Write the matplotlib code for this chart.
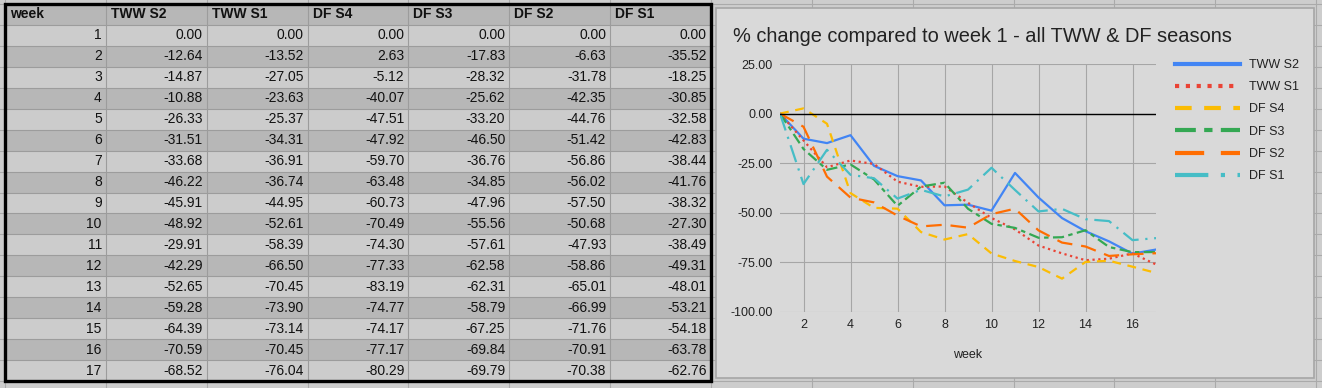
import numpy as np
import matplotlib
matplotlib.use("Agg")
import matplotlib.pyplot as plt
from matplotlib.patches import Rectangle

plt.rcParams['font.family'] = ['Liberation Sans', 'DejaVu Sans']

# data copied from the sheet
weeks = list(range(1, 18))
series_names = ['TWW S2', 'TWW S1', 'DF S4', 'DF S3', 'DF S2', 'DF S1']
tww_s2 = [0.00, -12.64, -14.87, -10.88, -26.33, -31.51, -33.68, -46.22, -45.91,
          -48.92, -29.91, -42.29, -52.65, -59.28, -64.39, -70.59, -68.52]
tww_s1 = [0.00, -13.52, -27.05, -23.63, -25.37, -34.31, -36.91, -36.74, -44.95,
          -52.61, -58.39, -66.50, -70.45, -73.90, -73.14, -70.45, -76.04]
df_s4 = [0.00, 2.63, -5.12, -40.07, -47.51, -47.92, -59.70, -63.48, -60.73,
         -70.49, -74.30, -77.33, -83.19, -74.77, -74.17, -77.17, -80.29]
df_s3 = [0.00, -17.83, -28.32, -25.62, -33.20, -46.50, -36.76, -34.85, -47.96,
         -55.56, -57.61, -62.58, -62.31, -58.79, -67.25, -69.84, -69.79]
df_s2 = [0.00, -6.63, -31.78, -42.35, -44.76, -51.42, -56.86, -56.02, -57.50,
         -50.68, -47.93, -58.86, -65.01, -66.99, -71.76, -70.91, -70.38]
df_s1 = [0.00, -35.52, -18.25, -30.85, -32.58, -42.83, -38.44, -41.76, -38.32,
         -27.30, -38.49, -49.31, -48.01, -53.21, -54.18, -63.78, -62.76]
all_series = [tww_s2, tww_s1, df_s4, df_s3, df_s2, df_s1]

chart_title = '% change compared to week 1 - all TWW & DF seasons'

W, H = 1322, 388
fig = plt.figure(figsize=(W / 100, H / 100), dpi=100)
fig.patch.set_facecolor('#cdcdcd')


def fig_box(x0, y0, x1, y1):
    # pixel box (top-left origin) -> figure fraction rect
    return [x0 / W, 1 - y1 / H, (x1 - x0) / W, (y1 - y0) / H]


# background sheet + table, drawn in pixel coordinates
sheet = fig.add_axes([0, 0, 1, 1])
sheet.set_xlim(0, W)
sheet.set_ylim(H, 0)
sheet.axis('off')

col_edges = np.linspace(5, 711, 8)
row_edges = np.linspace(4, 381, 19)
row_h = row_edges[1] - row_edges[0]
col_w = col_edges[1] - col_edges[0]

# sheet cell lines visible around the table and chart
for x in np.arange(col_edges[0], W + col_w, col_w):
    sheet.plot([x, x], [0, H], color='#aaaaaa', lw=0.8, zorder=0)
for y in np.arange(row_edges[0], H + row_h, row_h):
    sheet.plot([0, W], [y, y], color='#aaaaaa', lw=0.8, zorder=0)

# table rows
for r in range(18):
    y0 = row_edges[r]
    if r == 0 or r % 2 == 0:
        bg = '#b7b7b7'
    else:
        bg = '#cccccc'
    sheet.add_patch(Rectangle((col_edges[0], y0), col_edges[-1] - col_edges[0], row_h,
                              facecolor=bg, edgecolor='none', zorder=1))
for x in col_edges:
    sheet.plot([x, x], [row_edges[0], row_edges[-1]], color='#9c9c9c', lw=0.8, zorder=2)
for y in row_edges:
    sheet.plot([col_edges[0], col_edges[-1]], [y, y], color='#9c9c9c', lw=0.8, zorder=2)

headers = ['week'] + series_names
for c, h in enumerate(headers):
    sheet.text(col_edges[c] + 5, row_edges[0] + row_h / 2, h, ha='left', va='center',
               fontsize=10, fontweight='bold', color='#111111', zorder=3)

for r, wk in enumerate(weeks):
    yc = row_edges[r + 1] + row_h / 2
    sheet.text(col_edges[1] - 4, yc, str(wk), ha='right', va='center',
               fontsize=10, color='#111111', zorder=3)
    for c, s in enumerate(all_series):
        sheet.text(col_edges[c + 2] - 4, yc, '%.2f' % s[r], ha='right', va='center',
                   fontsize=10, color='#111111', zorder=3)

sheet.add_patch(Rectangle((col_edges[0], row_edges[0]), col_edges[-1] - col_edges[0],
                          row_edges[-1] - row_edges[0], facecolor='none',
                          edgecolor='black', lw=2.4, zorder=4))

# chart panel
sheet.add_patch(Rectangle((716, 8), 1314 - 716, 378 - 8, facecolor='#d9d9d9',
                          edgecolor='#a6a6a6', lw=1.2, zorder=5))

fig.text(733 / W, 1 - 36 / H, chart_title, ha='left', va='center',
         fontsize=14.4, color='#222222')

ax = fig.add_axes(fig_box(780, 64, 1156, 312))
ax.set_facecolor('none')
ax.set_zorder(6)

colors = ['#4285f4', '#ea4335', '#fbbc04', '#34a853', '#ff6d01', '#46bdc6']
styles = ['-', (0, (1, 1.6)), (0, (4, 3)), (0, (5, 2, 2, 2)), (0, (7, 4)), (0, (8, 3, 1, 3))]

for name, s, col, ls in zip(series_names, all_series, colors, styles):
    ax.plot(weeks, s, color=col, linestyle=ls, lw=1.6, label=name)

ax.set_xlim(1, 17)
ax.set_ylim(-100, 25)
ax.set_xticks(range(2, 17, 2))
ax.set_yticks([25, 0, -25, -50, -75, -100])
ax.set_yticklabels(['%.2f' % v for v in [25, 0, -25, -50, -75, -100]])
ax.grid(True, color='#a6a6a6', lw=0.8)
ax.axhline(0, color='black', lw=1.0)
ax.set_axisbelow(True)
for sp in ax.spines.values():
    sp.set_visible(False)
ax.tick_params(length=0, labelsize=9, colors='#222222', pad=5)
ax.set_xlabel('week', fontsize=9, color='#222222', labelpad=13)

leg = ax.legend(loc='upper left', bbox_to_anchor=(1175 / W, 1 - 59 / H),
                bbox_transform=fig.transFigure, frameon=False, fontsize=9,
                handlelength=5.2, handletextpad=0.7, labelspacing=0.82,
                borderpad=0, borderaxespad=0)
for line in leg.get_lines():
    line.set_linewidth(3)
for t in leg.get_texts():
    t.set_color('#222222')

fig.savefig('out.png', dpi=100)
